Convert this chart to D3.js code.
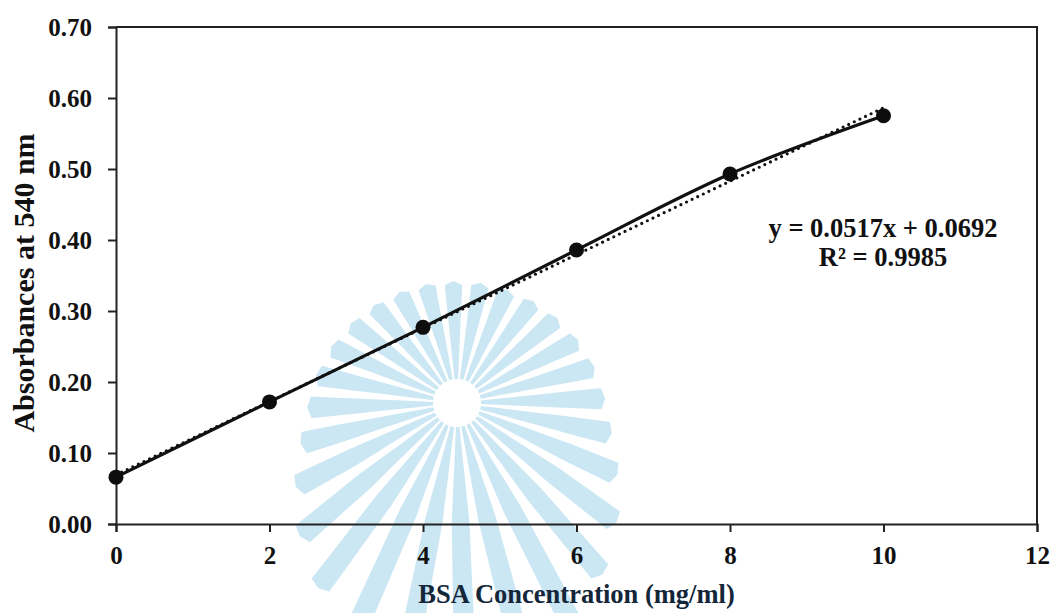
<!DOCTYPE html>
<html>
<head>
<meta charset="utf-8">
<script src="https://cdn.jsdelivr.net/npm/d3@7"></script>
<style>
  body { margin: 0; background: #fff; }
  svg { display: block; font-family: "Liberation Serif", "Times New Roman", serif; font-weight: bold; }
</style>
</head>
<body>
<svg id="chart" width="1056" height="613"></svg>
<script>
// BSA standard curve: concentration (mg/ml) vs absorbance at 540 nm
const concentration = [0, 2, 4, 6, 8, 10];
const absorbance = [0.066, 0.172, 0.277, 0.386, 0.493, 0.575];

// Linear least-squares fit reported on the chart
const fitSlope = 0.0517;
const fitIntercept = 0.0692;
const fitR2 = 0.9985;
const fitRange = [0, 10];

const xTickValues = [0, 2, 4, 6, 8, 10, 12];
const yTickValues = [0, 0.1, 0.2, 0.3, 0.4, 0.5, 0.6, 0.7];

const xLabel = "BSA Concentration (mg/ml)";
const yLabel = "Absorbances at 540 nm";

const W = 1056, H = 613;
const margin = { top: 27, right: 19, bottom: 89, left: 116 };
const innerW = W - margin.left - margin.right;
const innerH = H - margin.top - margin.bottom;

const svg = d3.select("#chart");

// Pale institutional sunburst emblem behind the plot
(function drawEmblem() {
  const cx = 457, cy = 403, rays = 28, inner = 24;
  const step = 2 * Math.PI / rays;
  const g = svg.append("g").attr("fill", "#cbe7f4");
  for (let i = 0; i < rays; i++) {
    const phi = i * step - 0.03;            // angle measured from straight up
    const c = Math.cos(phi);
    const R = 145 - 27 * c + (c < 0 ? 95 * c * c : 0);
    const ux = Math.sin(phi), uy = -Math.cos(phi);   // along the ray
    const nx = -uy, ny = ux;                          // across the ray
    const at = (r, w) => [cx + r * ux + w * nx, cy + r * uy + w * ny];
    const hw = r => Math.min(11, Math.max(1.2, r * step * 0.33));
    const rs = [inner, 40, 60, 80, 100, 120, R];
    const side = rs.filter(r => r <= R);
    const pts = [
      ...side.map(r => at(r, -hw(r))),
      at(R + 4, 0),
      ...side.slice().reverse().map(r => at(r, hw(r)))
    ];
    g.append("path").attr("d", d3.line().curve(d3.curveLinearClosed)(pts));
  }
})();

const x = d3.scaleLinear().domain([0, 12]).range([0, innerW]);
const y = d3.scaleLinear().domain([0, 0.7]).range([innerH, 0]);

const g = svg.append("g").attr("transform", `translate(${margin.left},${margin.top})`);

// Plot frame (top and right edges)
g.append("path")
  .attr("d", `M0,0H${innerW}V${innerH}`)
  .attr("fill", "none").attr("stroke", "#222").attr("stroke-width", 2);

// Axes
const yAxis = g.append("g")
  .call(d3.axisLeft(y).tickValues(yTickValues).tickFormat(d3.format(".2f")).tickSize(8).tickPadding(16));
const xAxis = g.append("g")
  .attr("transform", `translate(0,${innerH})`)
  .call(d3.axisBottom(x).tickValues(xTickValues).tickFormat(d3.format("d")).tickSize(8).tickPadding(14));

[yAxis, xAxis].forEach(a => {
  a.select(".domain").attr("stroke", "#222").attr("stroke-width", 2);
  a.selectAll(".tick line").attr("stroke", "#222").attr("stroke-width", 2);
  a.selectAll(".tick text")
    .attr("fill", "#111")
    .style("font-family", "'Liberation Serif', 'Times New Roman', serif")
    .style("font-weight", "bold")
    .style("font-size", "25px");
});

// Linear trendline (dotted)
const fitLine = d3.line().x(d => x(d)).y(d => y(fitSlope * d + fitIntercept));
g.append("path")
  .datum(fitRange)
  .attr("d", fitLine)
  .attr("fill", "none")
  .attr("stroke", "#111")
  .attr("stroke-width", 3.2)
  .attr("stroke-linecap", "round")
  .attr("stroke-dasharray", "0 6.2");

// Smoothed data line
const pts = concentration.map((c, i) => [c, absorbance[i]]);
g.append("path")
  .datum(pts)
  .attr("d", d3.line().x(d => x(d[0])).y(d => y(d[1])).curve(d3.curveCatmullRom.alpha(0.5)))
  .attr("fill", "none")
  .attr("stroke", "#111")
  .attr("stroke-width", 3.2);

// Markers
g.selectAll("circle.pt")
  .data(pts)
  .join("circle")
  .attr("class", "pt")
  .attr("cx", d => x(d[0]))
  .attr("cy", d => y(d[1]))
  .attr("r", 7.5)
  .attr("fill", "#0d0d0d");

// Regression equation
const eq = g.append("text")
  .attr("text-anchor", "middle")
  .attr("fill", "#111")
  .style("font-size", "26.5px");
eq.append("tspan").attr("x", 767).attr("y", 210)
  .text(`y = ${fitSlope.toFixed(4)}x + ${fitIntercept.toFixed(4)}`);
eq.append("tspan").attr("x", 767).attr("y", 239)
  .text(`R² = ${fitR2.toFixed(4)}`);

// Axis titles
svg.append("text")
  .attr("x", margin.left + innerW / 2)
  .attr("y", 603)
  .attr("text-anchor", "middle")
  .attr("fill", "#13263a")
  .style("font-size", "26.5px")
  .text(xLabel);

svg.append("text")
  .attr("transform", "translate(34,283) rotate(-90)")
  .attr("text-anchor", "middle")
  .attr("fill", "#111")
  .style("font-size", "30px")
  .text(yLabel);
</script>
</body>
</html>
